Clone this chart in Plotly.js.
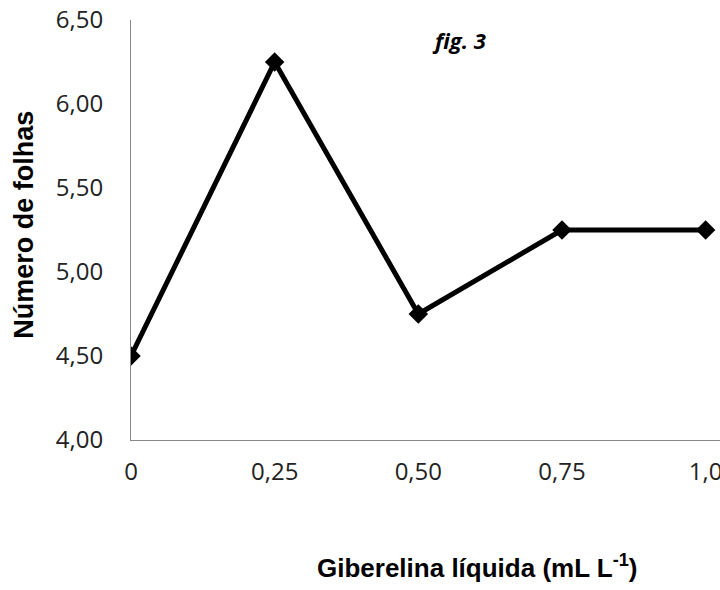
<!DOCTYPE html>
<html>
<head>
<meta charset="utf-8">
<script src="https://cdn.plot.ly/plotly-3.0.1.min.js"></script>
<style>
  html, body { margin: 0; padding: 0; background: #fff; }
  #chart { width: 720px; height: 590px; }
</style>
</head>
<body>
<div id="chart"></div>
<script>
// Giberelina líquida doses (mL L-1) and mean leaf count
const doses = [0, 0.25, 0.5, 0.75, 1.0];
const doseLabels = ["0", "0,25", "0,50", "0,75", "1,0"];
const numeroFolhas = [4.50, 6.25, 4.75, 5.25, 5.25];
const yTicks = [4.0, 4.5, 5.0, 5.5, 6.0, 6.5];
const yTickLabels = ["4,00", "4,50", "5,00", "5,50", "6,00", "6,50"];

const tickFont = "Open Sans, Noto Sans, sans-serif";
const titleFont = "Liberation Sans, Arial, sans-serif";

const trace = {
  x: doses,
  y: numeroFolhas,
  type: "scatter",
  mode: "lines+markers",
  line: { color: "#000", width: 5 },
  marker: { symbol: "diamond", size: 15, color: "#000" },
  hoverinfo: "skip"
};

const layout = {
  width: 720,
  height: 590,
  margin: { l: 131, r: 0, t: 20, b: 150 },
  paper_bgcolor: "#fff",
  plot_bgcolor: "#fff",
  showlegend: false,
  font: { family: tickFont, color: "#222", size: 24 },
  xaxis: {
    range: [0, 1.025],
    tickvals: doses,
    ticktext: doseLabels,
    showgrid: false,
    zeroline: false,
    showline: true,
    linecolor: "#888",
    linewidth: 1,
    ticks: "",
    ticklabelstandoff: 10,
    ticklabeloverflow: "allow",
    tickfont: { family: tickFont, size: 24, color: "#222" }
  },
  yaxis: {
    range: [4.0, 6.5],
    tickvals: yTicks,
    ticktext: yTickLabels,
    showgrid: false,
    zeroline: false,
    showline: true,
    linecolor: "#888",
    linewidth: 1,
    ticks: "",
    ticklabelstandoff: 22,
    ticklabeloverflow: "allow",
    tickfont: { family: tickFont, size: 24, color: "#222" }
  },
  annotations: [
    {
      text: "<b>Giberelina líquida (mL L<sup>-1</sup>)</b>",
      xref: "paper", yref: "paper",
      x: 0.589, y: -0.30,
      xanchor: "center", yanchor: "middle",
      showarrow: false,
      font: { family: titleFont, size: 26, color: "#000" }
    },
    {
      text: "<b>Número de folhas</b>",
      xref: "paper", yref: "paper",
      x: -0.182, y: 0.512,
      xanchor: "center", yanchor: "middle",
      textangle: -90,
      showarrow: false,
      font: { family: titleFont, size: 27, color: "#000" }
    },
    {
      text: "<b><i>fig. 3</i></b>",
      xref: "paper", yref: "paper",
      x: 0.557, y: 0.952,
      xanchor: "center", yanchor: "middle",
      showarrow: false,
      font: { family: tickFont, size: 22, color: "#000" }
    }
  ]
};

Plotly.newPlot("chart", [trace], layout, { displayModeBar: false, staticPlot: true });
</script>
</body>
</html>
